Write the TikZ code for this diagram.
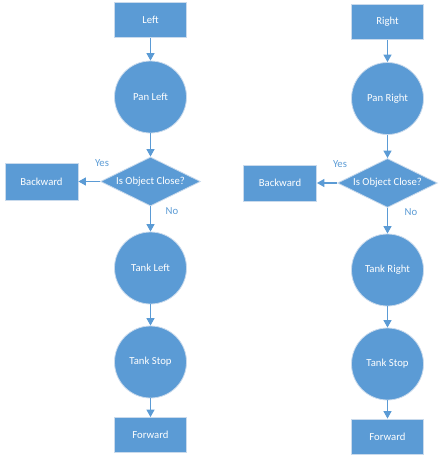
\documentclass[tikz,border=0pt]{standalone}
\usepackage{fontspec}
\setmainfont{Carlito}
\usetikzlibrary{shapes.geometric,arrows.meta}
\definecolor{obl}{HTML}{5B9BD5}
\definecolor{obd}{HTML}{C9DAEC}
\tikzset{
  base/.style={fill=obl,draw=obd,line width=0.8pt,text=white,font=\fontsize{10.7}{12}\selectfont,inner sep=0pt},
  boxnode/.style={base,rectangle,minimum width=72pt,minimum height=35pt},
  circnode/.style={base,circle,minimum size=72pt},
  decnode/.style={base,diamond,aspect=2.06,minimum width=100pt,minimum height=49pt},
  conn/.style={draw=obl,line width=1.3pt,-{Triangle[width=8pt,length=7.5pt]}},
  lbl/.style={text=obl,font=\fontsize{10.7}{12}\selectfont,inner sep=0pt}
}
\begin{document}
\begin{tikzpicture}[x=1pt,y=-1pt]
\useasboundingbox (0,0) rectangle (445,463);
% left column
\node[boxnode] (L) at (150.5,20) {Left};
\node[circnode] (PL) at (150.5,97) {Pan Left};
\node[decnode] (DL) at (150.5,181.5) {Is Object Close?};
\node[boxnode,minimum width=73pt,minimum height=37pt] (BL) at (41.5,181.5) {Backward};
\node[circnode] (TL) at (150.5,268) {Tank Left};
\node[circnode] (SL) at (150.5,362) {Tank Stop};
\node[boxnode] (FL) at (150.5,435) {Forward};
\draw[conn] (L) -- (PL);
\draw[conn] (PL) -- (DL);
\draw[conn] (DL) -- (BL);
\draw[conn] (DL) -- (TL);
\draw[conn] (TL) -- (SL);
\draw[conn] (SL) -- (FL);
\node[lbl] (YL) at (102,163) {Yes};
\node[lbl] (NL) at (172,211) {No};
% right column
\node[boxnode] (R) at (387.5,22) {Right};
\node[circnode] (PR) at (387.5,98.5) {Pan Right};
\node[decnode] (DR) at (387.5,183) {Is Object Close?};
\node[boxnode,minimum width=73pt,minimum height=36pt] (BR) at (280,183) {Backward};
\node[circnode] (TR) at (387.5,270) {Tank Right};
\node[circnode] (SR) at (387.5,364) {Tank Stop};
\node[boxnode] (FR) at (387.5,436.5) {Forward};
\draw[conn] (R) -- (PR);
\draw[conn] (PR) -- (DR);
\draw[conn] (DR) -- (BR);
\draw[conn] (DR) -- (TR);
\draw[conn] (TR) -- (SR);
\draw[conn] (SR) -- (FR);
\node[lbl] (YR) at (340,164) {Yes};
\node[lbl] (NR) at (411,212) {No};
\end{tikzpicture}
\end{document}
